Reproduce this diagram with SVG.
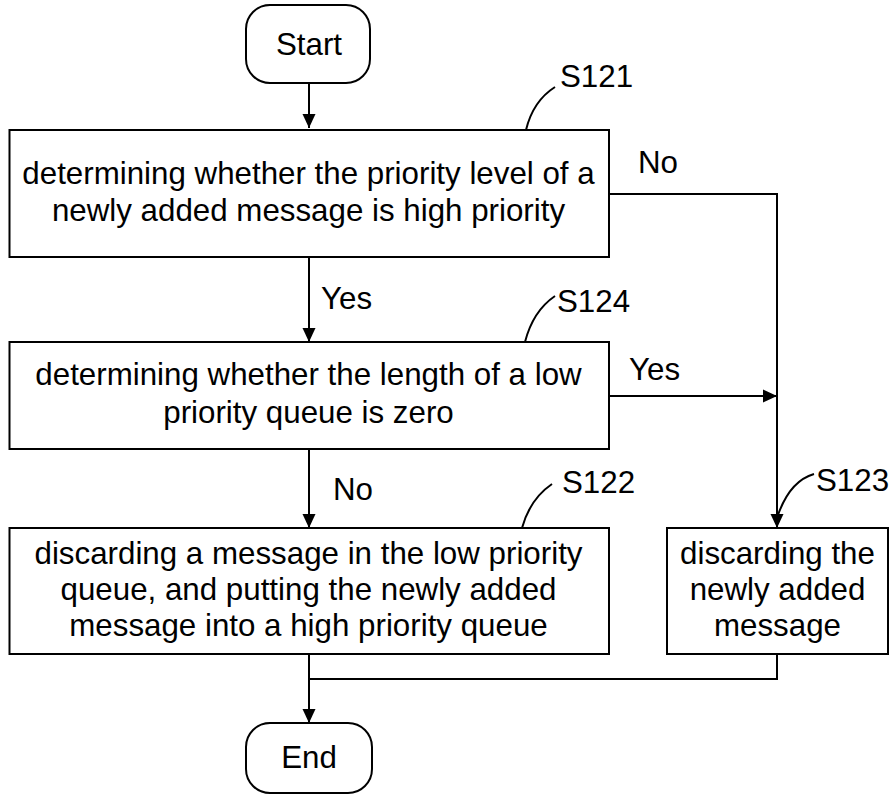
<svg xmlns="http://www.w3.org/2000/svg" width="891" height="795" viewBox="0 0 891 795">
<defs>
<marker id="ah" markerWidth="14" markerHeight="14" refX="14" refY="7" orient="auto" markerUnits="userSpaceOnUse">
<path d="M0,0.5 L14,7 L0,13.5 Z" fill="#000"/>
</marker>
<style>
.box{fill:#fff;stroke:#000;stroke-width:2}
.t{font-family:"Liberation Sans",Arial,sans-serif;font-size:31.3px;fill:#000}
.m{text-anchor:middle}
.ln{fill:none;stroke:#000;stroke-width:2}
</style>
</defs>
<rect width="891" height="795" fill="#fff"/>
<g id="connectors">
<path class="ln" d="M309,83 V128" marker-end="url(#ah)"/>
<path class="ln" d="M309,257 V342" marker-end="url(#ah)"/>
<path class="ln" d="M309,449 V528" marker-end="url(#ah)"/>
<path class="ln" d="M609,194 H777 V528" marker-end="url(#ah)"/>
<path class="ln" d="M609,396 H777" marker-end="url(#ah)"/>
<path class="ln" d="M309,654 V723" marker-end="url(#ah)"/>
<path class="ln" d="M777,654 V679 H309"/>
<path class="ln" d="M526,130 Q533,101 555,87"/>
<path class="ln" d="M525,342 Q533,311 555,296"/>
<path class="ln" d="M522,528 Q530,499 552,484"/>
<path class="ln" d="M778,515 Q790,481 814,474"/>
<text class="t" x="638" y="173">No</text>
<text class="t" x="321" y="309">Yes</text>
<text class="t" x="629" y="380">Yes</text>
<text class="t" x="333" y="500">No</text>
</g>
<g id="start">
<rect class="box" x="246" y="5" width="124" height="78" rx="24"/>
<text class="t m" x="309" y="55">Start</text>
</g>
<g id="s121">
<rect class="box" x="9.5" y="130" width="599.5" height="127"/>
<text class="t m" x="308.5" y="184">determining whether the priority level of a</text>
<text class="t m" x="308.5" y="221">newly added message is high priority</text>
<text class="t" x="560" y="87">S121</text>
</g>
<g id="s124">
<rect class="box" x="9.5" y="342" width="599.5" height="107"/>
<text class="t m" x="308.5" y="385">determining whether the length of a low</text>
<text class="t m" x="308.5" y="423">priority queue is zero</text>
<text class="t" x="557" y="312">S124</text>
</g>
<g id="s122">
<rect class="box" x="9.5" y="528" width="599.5" height="126"/>
<text class="t m" x="308.5" y="564">discarding a message in the low priority</text>
<text class="t m" x="308.5" y="600">queue, and putting the newly added</text>
<text class="t m" x="308.5" y="636">message into a high priority queue</text>
<text class="t" x="562" y="493">S122</text>
</g>
<g id="s123">
<rect class="box" x="667" y="528" width="221" height="126"/>
<text class="t m" x="777.5" y="564">discarding the</text>
<text class="t m" x="777.5" y="600">newly added</text>
<text class="t m" x="777.5" y="636">message</text>
<text class="t" x="816" y="491">S123</text>
</g>
<g id="end">
<rect class="box" x="246" y="723" width="126" height="70" rx="24"/>
<text class="t m" x="309" y="768">End</text>
</g>
</svg>
